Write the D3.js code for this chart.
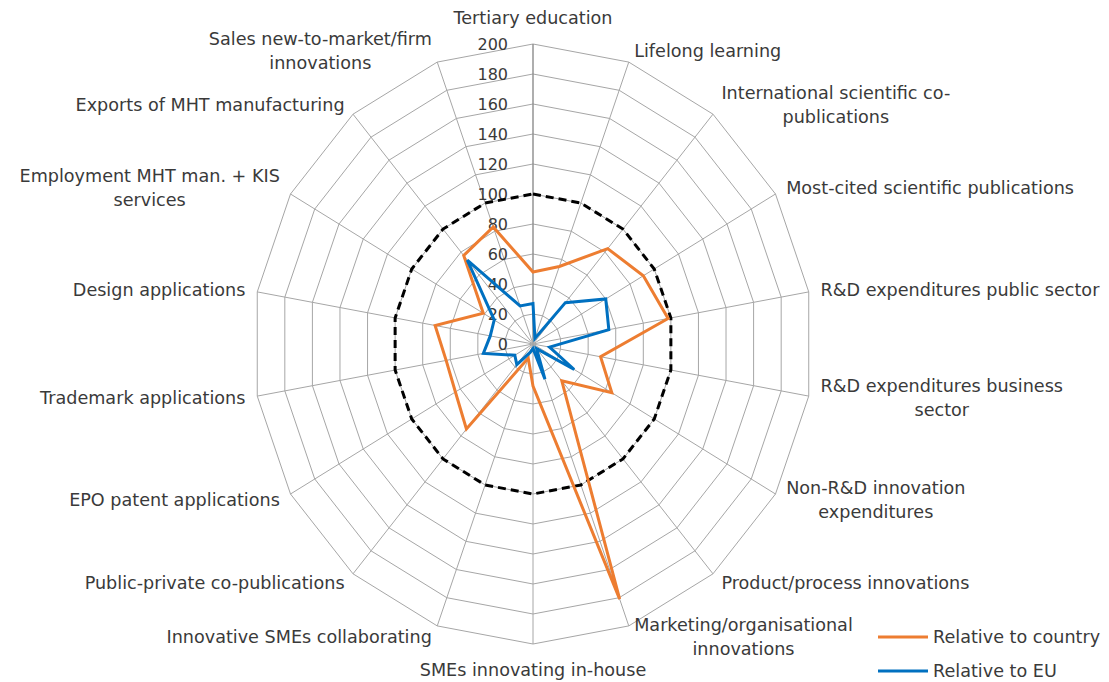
<!DOCTYPE html>
<html>
<head>
<meta charset="utf-8">
<script src="https://cdn.jsdelivr.net/npm/d3@7"></script>
<style>
  html, body { margin: 0; padding: 0; background: #fff; }
  svg { display: block; font-family: "DejaVu Sans", Verdana, sans-serif; }
</style>
</head>
<body>
<svg id="chart" width="1109" height="682"></svg>
<script>
const categories = [
  ["Tertiary education"],
  ["Lifelong learning"],
  ["International scientific co-", "publications"],
  ["Most-cited scientific publications"],
  ["R&D expenditures public sector"],
  ["R&D expenditures business", "sector"],
  ["Non-R&D innovation", "expenditures"],
  ["Product/process innovations"],
  ["Marketing/organisational", "innovations"],
  ["SMEs innovating in-house"],
  ["Innovative SMEs collaborating"],
  ["Public-private co-publications"],
  ["EPO patent applications"],
  ["Trademark applications"],
  ["Design applications"],
  ["Employment MHT man. + KIS", "services"],
  ["Exports of MHT manufacturing"],
  ["Sales new-to-market/firm", "innovations"]
];
const relativeToCountry = [48, 55, 83, 91, 98, 49, 65, 32, 181, 28, 10, 74, 64, 63, 71, 41, 77, 83];
const relativeToEU      = [27, 4, 36, 60, 55, 12, 34, 4, 25, 3, 6, 18, 15, 36, 31, 32, 73, 27];
const benchmark100      = [100, 100, 100, 100, 100, 100, 100, 100, 100, 100, 100, 100, 100, 100, 100, 100, 100, 100];
const tickValues = [0, 20, 40, 60, 80, 100, 120, 140, 160, 180, 200];
const legendLabels = ["Relative to country", "Relative to EU"];
const seriesColors = ["#ED7D31", "#0070C0"];

const svg = d3.select("#chart");
const cx = 533, cy = 344, RX = 280, RY = 300;
const n = categories.length;

const angle = d3.scaleLinear().domain([0, n]).range([0, 2 * Math.PI]);
const rx = d3.scaleLinear().domain([0, 200]).range([0, RX]);
const ry = d3.scaleLinear().domain([0, 200]).range([0, RY]);

const px = (i, v) => cx + rx(v) * Math.sin(angle(i));
const py = (i, v) => cy - ry(v) * Math.cos(angle(i));

const closedLine = d3.line()
  .x(d => px(d.i, d.v))
  .y(d => py(d.i, d.v))
  .curve(d3.curveLinearClosed);

const idx = d3.range(n);

// grid rings
const grid = svg.append("g");
tickValues.filter(t => t > 0).forEach(t => {
  grid.append("path")
    .attr("d", closedLine(idx.map(i => ({i, v: t}))))
    .attr("fill", "none")
    .attr("stroke", "#a6a6a6")
    .attr("stroke-width", 1);
});
// spokes
idx.forEach(i => {
  grid.append("line")
    .attr("x1", px(i, 0)).attr("y1", py(i, 0))
    .attr("x2", px(i, 200)).attr("y2", py(i, 200))
    .attr("stroke", i === 0 ? "#8c8c8c" : "#a6a6a6")
    .attr("stroke-width", i === 0 ? 1.4 : 1);
});

// tick labels
svg.append("g").selectAll("text")
  .data(tickValues)
  .join("text")
  .attr("x", cx - 25)
  .attr("y", d => cy - ry(d))
  .attr("text-anchor", "end")
  .attr("dominant-baseline", "central")
  .attr("font-size", 16)
  .attr("fill", "#3a3a3a")
  .text(d => d);

// benchmark dashed line
svg.append("path")
  .attr("d", closedLine(benchmark100.map((v, i) => ({i, v}))))
  .attr("fill", "none")
  .attr("stroke", "#000")
  .attr("stroke-width", 3)
  .attr("stroke-dasharray", "8,5");

// series
[relativeToCountry, relativeToEU].forEach((vals, s) => {
  svg.append("path")
    .attr("d", closedLine(vals.map((v, i) => ({i, v}))))
    .attr("fill", "none")
    .attr("stroke", seriesColors[s])
    .attr("stroke-width", 3)
    .attr("stroke-linejoin", "miter");
});

// category labels
const lineH = 24;
const labelG = svg.append("g");
categories.forEach((lines, i) => {
  const a = angle(i), s = Math.sin(a), c = Math.cos(a);
  const P = [px(i, 200), py(i, 200)];
  const t = labelG.append("text")
    .attr("text-anchor", "middle")
    .attr("font-size", 17.6)
    .attr("fill", "#3a3a3a");
  const spans = lines.map(l => t.append("tspan").attr("x", 0).text(l));
  const w = d3.max(spans, sp => sp.node().getComputedTextLength());
  const h = lines.length * lineH;
  let X, Y;
  if (Math.abs(s) < 0.01) {
    X = P[0];
    Y = P[1] - c * (h / 2 + 14);
  } else {
    X = P[0] + Math.sign(s) * (w / 2 + 2 + 10 * Math.abs(s));
    Y = P[1] - c * 12;
  }
  spans.forEach((sp, k) => {
    sp.attr("x", X)
      .attr("y", Y + (k - (lines.length - 1) / 2) * lineH)
      .attr("dominant-baseline", "central");
  });
});

// legend
const legend = svg.append("g");
legendLabels.forEach((lab, k) => {
  const y = 637 + k * 34;
  legend.append("line")
    .attr("x1", 878).attr("x2", 928)
    .attr("y1", y).attr("y2", y)
    .attr("stroke", seriesColors[k]).attr("stroke-width", 3);
  legend.append("text")
    .attr("x", 933).attr("y", y)
    .attr("dominant-baseline", "central")
    .attr("font-size", 17.6)
    .attr("fill", "#3a3a3a")
    .text(lab);
});
</script>
</body>
</html>
